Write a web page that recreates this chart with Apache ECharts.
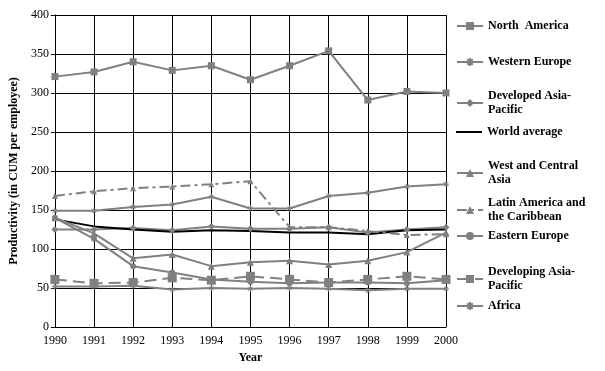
<!DOCTYPE html>
<html><head><meta charset="utf-8">
<script src="https://cdn.jsdelivr.net/npm/echarts@6/dist/echarts.min.js"></script>
<style>html,body{margin:0;padding:0;background:#fff}#c{width:605px;height:371px}</style>
</head><body><div id="c"></div>
<script>
const years = ['1990','1991','1992','1993','1994','1995','1996','1997','1998','1999','2000'];
const northAmerica = [321, 327, 340, 329, 335, 317, 335, 354, 291, 302, 300];
const westernEurope = [149, 149, 154, 157, 167, 152, 152, 168, 172, 180, 183];
const developedAsiaPacific = [125, 125, 127, 124, 129, 126, 126, 128, 121, 125, 128];
const worldAverage = [138, 129, 125, 122, 124, 123, 121, 121, 119, 124, 125];
const westCentralAsia = [140, 120, 88, 93, 78, 83, 85, 80, 85, 96, 121];
const latinAmerica = [168, 174, 178, 180, 183, 187, 128, 128, 123, 118, 119];
const easternEurope = [140, 113, 78, 70, 61, 58, 56, 57, 57, 56, 60];
const developingAsiaPacific = [61, 56, 57, 63, 60, 65, 61, 57, 61, 65, 61];
const africa = [52, 52, 53, 48, 50, 49, 50, 49, 47, 49, 49];
const yTicks = {min: 0, max: 400, interval: 50};

const gray = '#808080';
const font = 'Liberation Serif';
const star = 'path://M0,-5L0,5M-5,0L5,0M-3.5,-3.5L3.5,3.5M-3.5,3.5L3.5,-3.5';

function s(name, data, symbol, size, lineType, color) {
  color = color || gray;
  return {
    name, type: 'line', data, symbol, symbolSize: size,
    showSymbol: symbol !== 'none',
    lineStyle: {color, width: 2, type: lineType || 'solid'},
    itemStyle: {color, borderColor: color, borderWidth: symbol === star ? 1 : 0},
    emphasis: {disabled: true}, animation: false
  };
}

const series = [
  s('North  America', northAmerica, 'rect', 7),
  s('Western Europe', westernEurope, star, 6),
  s('Developed Asia-\nPacific', developedAsiaPacific, 'diamond', 7),
  s('World average', worldAverage, 'none', 0, 'solid', '#000'),
  s('West and Central\nAsia', westCentralAsia, 'triangle', 7),
  s('Latin America and\nthe Caribbean', latinAmerica, 'triangle', 6, [10, 4, 3, 4]),
  s('Eastern Europe', easternEurope, 'circle', 6),
  s('Developing Asia-\nPacific', developingAsiaPacific, 'rect', 9, [12, 6]),
  s('Africa', africa, star, 6)
];

const legendTops = [19, 55, 89, 125, 159, 196, 229, 265, 299];
const legends = series.map((se, i) => {
  const isWorld = se.name === 'World average';
  return {
    data: [isWorld ? {name: se.name, icon: 'rect'} : se.name],
    orient: 'vertical', left: 456, top: legendTops[i],
    itemWidth: 26, itemHeight: isWorld ? 2 : 10, itemGap: 0, padding: 0, selectedMode: false,
    textStyle: {fontFamily: font, fontSize: 12, fontWeight: 'bold', color: '#000', lineHeight: 14}
  };
});

const chart = echarts.init(document.getElementById('c'), null, {renderer: 'canvas'});
chart.setOption({
  animation: false,
  backgroundColor: '#fff',
  grid: {left: 53, right: 159, top: 15, bottom: 44, containLabel: false},
  legend: legends,
  xAxis: {
    type: 'category', data: years, boundaryGap: false,
    name: 'Year', nameLocation: 'middle', nameGap: 24,
    nameTextStyle: {fontFamily: font, fontSize: 12, fontWeight: 'bold', color: '#000'},
    axisLine: {lineStyle: {color: '#000', width: 1}},
    axisTick: {show: true, inside: true, length: 4, lineStyle: {color: '#000'}},
    axisLabel: {fontFamily: font, fontSize: 12, color: '#000', margin: 8},
    splitLine: {show: true, lineStyle: {color: '#000', width: 1}}
  },
  yAxis: {
    type: 'value', min: yTicks.min, max: yTicks.max, interval: yTicks.interval,
    name: 'Productivity (in CUM per employee)', nameLocation: 'middle', nameGap: 33,
    nameTextStyle: {fontFamily: font, fontSize: 12, fontWeight: 'bold', color: '#000'},
    axisLine: {show: true, lineStyle: {color: '#000', width: 1}},
    axisTick: {show: true, length: 4, lineStyle: {color: '#000'}},
    axisLabel: {fontFamily: font, fontSize: 12, color: '#000', margin: 6},
    splitLine: {show: true, lineStyle: {color: '#000', width: 1}}
  },
  series
});
</script></body></html>
